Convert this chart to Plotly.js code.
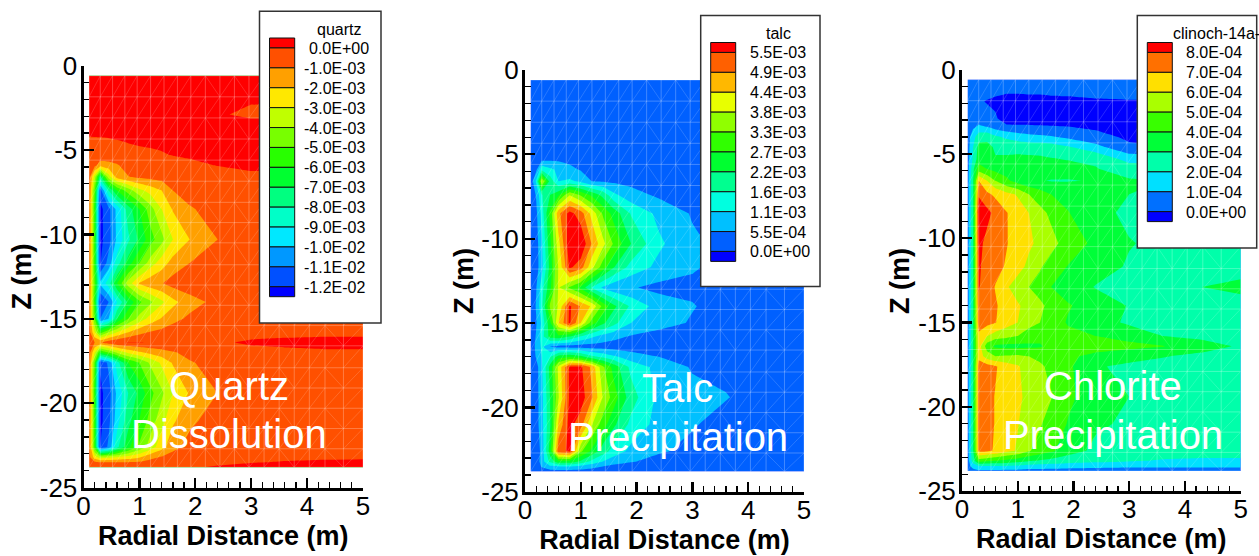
<!DOCTYPE html>
<html>
<head>
<meta charset="utf-8">
<script src="https://cdn.plot.ly/plotly-3.0.1.min.js"></script>
<style>html,body{margin:0;padding:0;background:#fff;overflow:hidden}</style>
</head>
<body>
<div id="chart" style="width:1259px;height:556px"></div>
<script>
// radial nodes (m) and depth nodes (m) of the contour grids
const radial = [0.1,0.2,0.3,0.45,0.6,0.8,1.0,1.2,1.4,1.6,1.9,2.4,3.0,3.6,4.3,5.0];
const depth = [-0.6,-1.2,-1.9,-2.9,-3.3,-4.0,-4.6,-5.3,-5.9,-6.6,-7.4,-8.5,-10.3,-11.7,-12.9,-14.0,-15.0,-15.8,-16.4,-17.0,-17.6,-19.4,-21.0,-22.6,-23.2,-23.5,-23.8];

// quartz volume change, in units of 1e-3
const quartz = [
[.3,.3,.3,.3,.3,.3,.3,.3,.3,.3,.3,.3,.3,.3,.3,.3],
[.3,.3,.3,.3,.3,.3,.3,.3,.3,.3,.3,.3,.3,.3,.3,.3],
[.3,.3,.3,.3,.3,.3,.3,.3,.3,.3,.3,.25,.1,.1,.1,.1],
[.2,.2,.2,.2,.2,.2,.2,.2,.2,.2,.2,.08,-.15,-.1,-.1,-.1],
[.15,.15,.15,.15,.15,.15,.15,.15,.15,.15,.15,.15,.1,.1,.1,.1],
[.05,.06,.07,.08,.1,.12,.15,.15,.15,.15,.15,.15,.15,.15,.15,.15],
[-.1,-.1,-.1,-.08,-.05,0,.05,.07,.1,.12,.12,.12,.15,.15,.15,.15],
[-.3,-.3,-.3,-.3,-.3,-.22,-.15,-.1,-.05,.02,.06,.1,.12,.12,.12,.12],
[-.4,-.7,-1.5,-1.4,-1.1,-.6,-.5,-.4,-.35,-.3,-.1,.02,.1,.1,.1,.1],
[-.5,-3.5,-7.5,-3.5,-1.6,-1.05,-.8,-.7,-.6,-.5,-.4,-.3,-.1,-.1,-.1,-.1],
[-.6,-5,-11.5,-8,-6,-4.5,-3.3,-2.6,-2,-1,-.6,-.4,-.3,-.3,-.3,-.3],
[-.6,-5.5,-12.3,-11.3,-9.7,-7.5,-6,-4.4,-3,-1.9,-1.1,-.6,-.35,-.3,-.3,-.3],
[-.6,-5.5,-12.3,-11.4,-9.8,-8.2,-6.8,-5.4,-4.3,-3,-2,-1,-.5,-.35,-.3,-.3],
[-.6,-5.5,-12.05,-10.6,-8.5,-6.5,-5,-3.5,-2.5,-1.6,-1,-.5,-.35,-.3,-.3,-.3],
[-.6,-5,-9.8,-8.5,-6,-3.5,-1.9,-1.3,-1.05,-.6,-.4,-.2,-.3,-.3,-.3,-.3],
[-.6,-5.5,-12.1,-11,-9,-6.8,-5.2,-4.2,-3.2,-2.3,-1.4,-.7,-.35,-.3,-.3,-.3],
[-.6,-5,-11,-10,-7,-5,-3.6,-2.6,-1.9,-1.3,-.8,-.5,-.3,-.3,-.3,-.3],
[-.5,-3,-5.5,-4,-3,-2,-1.3,-.9,-.7,-.5,-.4,-.25,-.12,-.12,-.15,-.15],
[-.4,-1,-1.1,-.4,-.1,.02,.03,-.02,-.1,-.1,-.1,-.05,.05,.1,.2,.2],
[-.5,-3,-6,-5,-3.8,-2.8,-2.2,-1.7,-1.4,-1.1,-.7,-.3,-.12,-.1,-.1,-.1],
[-.6,-5,-11.8,-10.8,-8.5,-6,-5,-3.8,-2.8,-1.9,-1.1,-.6,-.3,-.3,-.3,-.3],
[-.6,-5.5,-12.3,-11.4,-9.8,-8,-6.7,-5.3,-4.2,-3,-1.9,-1,-.5,-.35,-.3,-.3],
[-.6,-5.5,-12.3,-11.3,-9.5,-7.4,-6,-4.6,-3.4,-2.2,-1.2,-.6,-.4,-.3,-.3,-.3],
[-.6,-5.5,-12,-10.8,-8.3,-6.3,-4.8,-3.5,-2.4,-1.3,-.7,-.4,-.3,-.3,-.3,-.3],
[-.6,-2.5,-3.5,-3.2,-3,-2.6,-2.1,-1.3,-.9,-.6,-.4,-.25,-.08,-.06,-.05,-.05],
[-.4,-.8,-1,-1,-1,-1,-.9,-.6,-.4,-.3,-.15,-.08,-.02,.02,.05,.08],
[-.2,-.3,-.3,-.3,-.2,-.1,-.1,-.1,-.1,-.1,-.05,.05,.15,.15,.2,.2]
];

// talc volume change, in units of 1e-3
const talc = [
[.2,.25,.3,.3,.3,.3,.3,.3,.3,.3,.3,.3,.3,.3,.3,.3],
[.2,.25,.3,.3,.3,.3,.3,.3,.3,.3,.3,.3,.3,.3,.3,.3],
[.2,.25,.3,.3,.3,.3,.3,.3,.3,.3,.3,.3,.3,.3,.3,.3],
[.2,.25,.3,.3,.3,.3,.3,.3,.3,.3,.3,.3,.3,.3,.3,.3],
[.2,.25,.3,.3,.3,.3,.3,.3,.3,.3,.3,.3,.3,.3,.3,.3],
[.2,.25,.3,.3,.3,.3,.3,.3,.3,.3,.3,.3,.3,.3,.3,.3],
[.2,.25,.3,.3,.3,.3,.3,.3,.3,.3,.3,.3,.3,.3,.3,.3],
[.15,.25,.4,.45,.45,.4,.3,.3,.3,.3,.3,.3,.3,.3,.3,.3],
[.1,.4,1.5,1.2,1,.7,.5,.35,.3,.25,.25,.25,.25,.25,.25,.25],
[.1,1.2,3.9,2,1.1,1.2,1,.55,.5,.45,.4,.3,.2,.2,.2,.2],
[.1,.6,1.6,2.2,2.6,3.8,3.2,2.6,2,1.2,.75,.45,.35,.3,.3,.3],
[.1,.4,1.3,2.9,4.8,5.7,5.2,4.2,3.2,2.5,1.6,.95,.5,.4,.3,.3],
[.1,.3,1,2.6,4.2,5.9,6,4.9,4,3.2,2.2,1.2,.65,.4,.3,.3],
[.1,.3,.9,2.4,3.9,5.6,5.2,4,3,2.2,1.45,.95,.6,.4,.3,.3],
[.1,.5,1.4,2.6,3.9,3.2,2.6,1.6,1,.7,.6,.4,.45,.4,.3,.3],
[.1,.6,1.5,3.4,3.9,5.6,4.9,4.3,3.1,2.3,1.55,.85,.58,.35,.3,.3],
[.1,.5,1.2,2.6,4.4,5.6,4.4,3,2.3,1.8,1.1,.75,.5,.35,.3,.3],
[.1,.6,1.4,2.4,2.6,2.2,1.6,1.2,.9,.7,.5,.35,.3,.3,.3,.3],
[.1,.7,1.2,.55,.35,.3,.3,.3,.3,.3,.3,.3,.3,.3,.3,.3],
[.1,.6,1.1,1.6,2.5,2.7,2.4,1.8,1.5,1.2,.8,.55,.35,.3,.3,.3],
[.1,.3,1,2.4,4,5.6,5.6,4.8,3.4,2.5,1.5,.9,.5,.4,.3,.3],
[.1,.3,.9,2.2,3.8,5.6,5.8,5,3.8,3,1.9,.95,.72,.58,.3,.3],
[.1,.3,.9,2.1,4.5,5.7,5.2,3.9,3,2.3,1.5,.9,.6,.35,.3,.3],
[.1,.2,.7,2.5,5.3,5.6,3.4,2.6,1.9,1.4,.95,.62,.4,.3,.3,.3],
[.1,.2,.8,1.8,2.6,2.6,2.1,1.5,1.1,.8,.6,.35,.3,.3,.3,.3],
[.1,.2,.6,1,1.1,1.1,.9,.7,.55,.4,.3,.3,.3,.3,.3,.3],
[.1,.2,.3,.3,.3,.3,.3,.3,.3,.3,.3,.3,.3,.3,.3,.3]
];

// chlorite (clinochlore-14A) volume change, in units of 1e-4
const chlorite = [
[.6,.6,.6,.6,.6,.6,.6,.6,.6,.6,.6,.6,.6,.6,.6,.6],
[.5,.5,.4,.3,.2,.15,.15,.2,.2,.25,.25,.3,.3,.3,.3,.3],
[.5,.4,.1,-.05,-.15,-.3,-.3,-.3,-.3,-.25,-.2,-.1,-.05,-.05,-.05,-.05],
[.6,.6,.5,.3,.1,-.4,-.5,-.5,-.5,-.5,-.5,-.5,-.5,-.5,-.5,-.5],
[.5,.7,1.05,.7,.3,.05,.03,.02,0,-.05,-.1,-.3,-.5,-.5,-.5,-.5],
[.5,1.6,2.6,2.8,2.2,1.8,1.5,1.3,1.2,1.1,.8,.4,-.2,-.4,-.4,-.4],
[.5,2,3.3,3.2,2.9,2.8,2.7,2.6,2.6,2.5,2.1,1.3,.2,0,-.2,-.2],
[.5,2.2,3.5,3.3,3.05,3.1,3.2,3.2,3.15,3.05,2.95,2.85,1.6,1.5,1.5,1.5],
[.5,2.8,4.5,4,3.7,3.6,3.5,3.4,3.4,3.4,3.3,3.05,2.6,2.6,2.5,2.5],
[.5,3,7,6,5,4.2,3.6,3.2,3.05,2.95,2.95,3.05,3.1,3,3,3],
[.5,3,7.9,7.2,6.8,6.3,5.9,5,4.5,4,3.7,3.1,3,2.7,2.6,2.6],
[.5,3,8.6,8.3,7.7,7.05,6.5,6,5.3,4.8,4.05,3.3,2.8,2.7,2.6,2.6],
[.5,3,8.3,7.7,7.4,7.05,6.6,6.15,5.8,5.3,4.6,3.75,3.05,2.8,2.7,2.7],
[.5,3,8.15,7.6,7.3,6.9,6.3,5.8,5.1,4.6,3.95,3.4,2.9,2.7,2.6,2.6],
[.5,3,8.1,7.4,6.95,6.1,5.6,5,4.6,4,3.5,2.95,2.9,2.8,3,3.25],
[.5,3,7.7,7.4,7.1,6.6,6.1,5.7,5.2,4.7,4.1,3.5,2.95,2.7,2.6,2.6],
[.5,3,7.6,7.3,7.05,6.4,6,5.3,5,4.6,3.9,3.4,2.85,2.6,2.6,2.6],
[.5,3,6.7,6,5.5,5.3,5,4.6,4.3,4.2,4.3,4,3.6,3,2.8,2.7],
[.5,3,6.5,4.5,3.8,3.7,3.7,3.8,3.9,4.3,4.5,4.5,4.3,4.05,3.35,2.9],
[.5,3,6.6,5.5,5,5.1,5.2,5,4.7,4.4,4.2,3.7,3.35,3.05,2.8,2.7],
[.5,3,7.6,7.4,7.1,6.5,6.1,5.6,5.2,4.7,4.2,3.1,2.8,2.7,2.6,2.6],
[.5,3,7.6,7.3,6.95,6.4,6.15,5.8,5.4,5.05,4.2,3.5,3,2.7,2.6,2.6],
[.5,3,7.6,7.3,6.95,6.4,6.05,5.5,5.1,4.6,3.95,3.15,2.85,2.7,2.6,2.6],
[.5,3,7.3,7.2,6.9,6.3,5.9,5.1,4.6,4.2,3.4,2.8,2.6,2.5,2.5,2.5],
[.5,2.5,4.5,4.2,4,3.7,3.4,3.1,2.9,2.7,2.5,2.3,2.1,1.9,1.8,1.8],
[.5,1.5,2,2,2,2,1.9,1.7,1.6,1.5,1.4,1.3,1.2,1.2,1.2,1.2],
[.4,.6,.8,.8,.8,.7,.7,.6,.6,.6,.6,.6,.6,.6,.6,.6]
];

// legend labels, top to bottom
const quartzLabels = ['0.0E+00','-1.0E-03','-2.0E-03','-3.0E-03','-4.0E-03','-5.0E-03','-6.0E-03','-7.0E-03','-8.0E-03','-9.0E-03','-1.0E-02','-1.1E-02','-1.2E-02'];
const talcLabels = ['5.5E-03','4.9E-03','4.4E-03','3.8E-03','3.3E-03','2.7E-03','2.2E-03','1.6E-03','1.1E-03','5.5E-04','0.0E+00'];
const chloriteLabels = ['8.0E-04','7.0E-04','6.0E-04','5.0E-04','4.0E-04','3.0E-04','2.0E-04','1.0E-04','0.0E+00'];

// band colours, top to bottom
const quartzColors = ['#ff0000','#ff5000','#ffa000','#ffe800','#c0ff00','#78ff00','#28ff00','#00ff30','#00ff80','#00ffc8','#00e8ff','#0098ff','#0050ff','#0000ff'];
const talcColors = ['#ff0000','#ff6000','#ffb800','#e8ff00','#90ff00','#30ff00','#00ff30','#00ff90','#00ffe0','#00c0ff','#0060ff','#0000ff'];
const chloriteColors = ['#ff0000','#ff7000','#ffe000','#aaff00','#38ff00','#00ff38','#00ffaa','#00e0ff','#0070ff','#0000ff'];

const xTicks = [0,1,2,3,4,5];
const xTickText = ['0','1','2','3','4','5'];
const yTicks = [0,-5,-10,-15,-20,-25];
const yTickText = ['0','-5','-10','-15','-20','-25'];

// computational mesh drawn over the contours
const meshR = [0.1,0.3,0.52,0.74,0.96,1.2,1.44,1.68,1.92,2.18,2.44,2.7,2.96,3.23,3.5,3.77,4.04,4.32,4.65,5.0];
const meshZ = [-0.6,-1.85,-3.1,-4.35,-5.6,-6.85,-8.1,-9.3,-10.5,-11.8,-13,-14.2,-15.4,-16.6,-17.9,-19.1,-20.3,-21.5,-22.7,-23.8];
const meshFlip = [2.18,2.7,3.5,4.32];

const FONT = 'Liberation Sans, Arial, sans-serif';
const W = 1259, H = 556;
const px = v => v / W, py = v => 1 - v / H;

const panels = [
 {name:'quartz', z:quartz, colors:quartzColors, labels:quartzLabels, start:-12, end:0, size:1,
  x0:83.5, x5:363, y0:65.6, y25:487.6, zTitle:[21.5,277],
  box:[259.5,11.2,381,322.9], sw:[269.5,294.7], swTop:38, labelX:307, titleX:339, titleY:29.8, titleAnchor:'center',
  note:['Quartz','Dissolution'], noteX:229, noteY:[386,434]},
 {name:'talc', z:talc, colors:talcColors, labels:talcLabels, start:0, end:5.5, size:0.55,
  x0:525, x5:804, y0:69.9, y25:491.8, zTitle:[464,281],
  box:[700.7,15.6,820,286.5], sw:[710.7,735.7], swTop:42.5, labelX:747.7, titleX:778.7, titleY:33.7, titleAnchor:'center',
  note:['Talc','Precipitation'], noteX:677.5, noteY:[388,437]},
 {name:'clinoch-14a-', z:chlorite, colors:chloriteColors, labels:chloriteLabels, start:0, end:8, size:1,
  x0:962, x5:1240.7, y0:69.5, y25:491.2, zTitle:[900,281],
  box:[1137.3,15.6,1256.7,247.9], sw:[1147.3,1172.3], swTop:42.5, labelX:1184.3, titleX:1170.7, titleY:33.7, titleAnchor:'left',
  note:['Chlorite','Precipitation'], noteX:1112.5, noteY:[386,435]}
];

const traces = [], shapes = [], annotations = [];
const layout = {width:W, height:H, margin:{l:0,r:0,t:0,b:0}, paper_bgcolor:'#fff', plot_bgcolor:'#fff',
  showlegend:false, font:{family:FONT, color:'#000'}};

// mesh paths
const meshLines = {x:[], y:[]}, meshDiag = {x:[], y:[]};
meshR.forEach(r => { meshLines.x.push(r,r,null); meshLines.y.push(meshZ[0],meshZ[meshZ.length-1],null); });
meshZ.forEach(z => { meshLines.x.push(meshR[0],meshR[meshR.length-1],null); meshLines.y.push(z,z,null); });
for (let i = 0; i < meshR.length-1; i++) for (let j = 0; j < meshZ.length-1; j++) {
  const flip = meshFlip.includes(meshR[i]) && j % 2 === 0;
  meshDiag.x.push(meshR[i],meshR[i+1],null);
  meshDiag.y.push(flip ? meshZ[j] : meshZ[j+1], flip ? meshZ[j+1] : meshZ[j], null);
}

panels.forEach((p, k) => {
  const id = k === 0 ? '' : String(k+1);
  const xa = 'xaxis'+id, ya = 'yaxis'+id, xr = 'x'+id, yr = 'y'+id;
  const bottomUp = p.colors.slice().reverse();
  const n = bottomUp.length - 1;
  const scale = bottomUp.map((c,i) => [i/n, c]);
  traces.push({type:'contour', x:radial, y:depth, z:p.z, xaxis:xr, yaxis:yr, showscale:false, hoverinfo:'skip',
    autocontour:false, contours:{coloring:'fill', start:p.start, end:p.end, size:p.size, showlines:false},
    line:{width:0, smoothing:0}, colorscale:scale, name:p.name});
  traces.push({type:'scatter', mode:'lines', x:meshLines.x, y:meshLines.y, xaxis:xr, yaxis:yr, hoverinfo:'skip',
    line:{color:'rgba(255,255,255,0.26)', width:1}, connectgaps:false});
  traces.push({type:'scatter', mode:'lines', x:meshDiag.x, y:meshDiag.y, xaxis:xr, yaxis:yr, hoverinfo:'skip',
    line:{color:'rgba(255,255,255,0.2)', width:0.8}, connectgaps:false});

  layout[xa] = {domain:[px(p.x0),px(p.x5)], range:[0,5], anchor:yr, showgrid:false, zeroline:false, showline:true,
    linecolor:'#000', linewidth:3, ticks:'inside', ticklen:10, tickwidth:2.2, tickcolor:'#000',
    tickmode:'array', tickvals:xTicks, ticktext:xTickText, tickfont:{family:FONT,size:26,color:'#000'}, ticklabelstandoff:-7,
    minor:{dtick:0.2, tick0:0, ticks:'inside', ticklen:5.5, tickwidth:1.3, tickcolor:'#000', showgrid:false},
    title:{text:'<b>Radial Distance (m)</b>', font:{family:FONT,size:27,color:'#000'}, standoff:4}};
  layout[ya] = {domain:[py(p.y25),py(p.y0)], range:[-25,0], anchor:xr, showgrid:false, zeroline:false, showline:true,
    linecolor:'#000', linewidth:3, ticks:'inside', ticklen:10, tickwidth:2.2, tickcolor:'#000',
    tickmode:'array', tickvals:yTicks, ticktext:yTickText, tickfont:{family:FONT,size:26,color:'#000'}, ticklabelstandoff:-2,
    minor:{dtick:1, tick0:0, ticks:'inside', ticklen:5.5, tickwidth:1.3, tickcolor:'#000', showgrid:false}};
  // the Z title sits closer to its tick labels than an axis title can be placed
  annotations.push({xref:'paper', yref:'paper', x:px(p.zTitle[0]), y:py(p.zTitle[1]), xanchor:'center', yanchor:'middle',
    textangle:-90, showarrow:false, text:'<b>Z (m)</b>', font:{family:FONT,size:27,color:'#000'}});

  // legend frame
  const base = {type:'rect', xref:'paper', yref:'paper', layer:'above'};
  shapes.push({...base, x0:px(p.box[0]), x1:px(p.box[2]), y0:py(p.box[3]), y1:py(p.box[1]), fillcolor:'#fff', line:{color:'#333',width:1.5}});
  // swatches: the first and last are half height, the level labels sit on the divisions
  const step = 19.9;
  p.colors.forEach((c,i) => {
    const top = i === 0 ? p.swTop : p.swTop + step/2 + (i-1)*step;
    const bot = p.swTop + step/2 + i*step - (i === p.colors.length-1 ? step/2 : 0);
    shapes.push({...base, x0:px(p.sw[0]), x1:px(p.sw[1]), y0:py(bot), y1:py(top), fillcolor:c, line:{color:'#111',width:1}});
  });
  p.labels.forEach((t,i) => {
    annotations.push({xref:'paper', yref:'paper', x:px(p.labelX - (t[0]==='-'?5.3:0)), y:py(p.swTop + step/2 + i*step + 0.5),
      xanchor:'left', yanchor:'middle', showarrow:false, text:t, font:{family:FONT,size:16,color:'#000'}});
  });
  annotations.push({xref:'paper', yref:'paper', x:px(p.titleX), y:py(p.titleY), xanchor:p.titleAnchor, yanchor:'middle',
    showarrow:false, text:p.name, font:{family:FONT,size:16,color:'#000'}});
  // white captions
  p.note.forEach((t,i) => {
    annotations.push({xref:'paper', yref:'paper', x:px(p.noteX), y:py(p.noteY[i]), xanchor:'center', yanchor:'middle',
      showarrow:false, text:t, font:{family:FONT,size:40,color:'#fff'}});
  });
});
layout.shapes = shapes;
layout.annotations = annotations;
Plotly.newPlot('chart', traces, layout, {staticPlot:true, displayModeBar:false});
</script>
</body>
</html>
